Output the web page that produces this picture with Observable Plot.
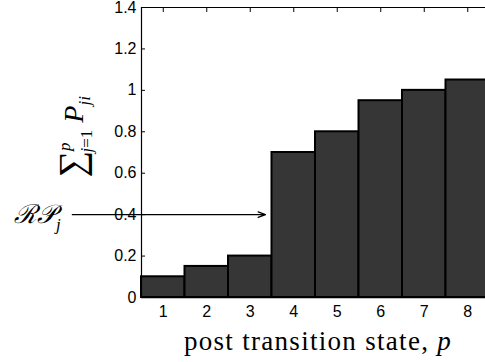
<!DOCTYPE html>
<html><head><meta charset="utf-8">
<script src="https://cdn.jsdelivr.net/npm/d3@7"></script>
<script src="https://cdn.jsdelivr.net/npm/@observablehq/plot@0.6"></script>
<style>html,body{margin:0;padding:0;overflow:hidden;background:#fff}</style>
</head><body><div id="chart"></div>
<script>
const states = [1, 2, 3, 4, 5, 6, 7, 8];
const cumulative = [0.10, 0.15, 0.20, 0.70, 0.80, 0.95, 1.00, 1.05];
const yTicks = [0, 0.2, 0.4, 0.6, 0.8, 1, 1.2, 1.4];
const xTitle = "post transition state, p";
const rpLabel = "ℛ𝒫";
const yTitle = "SUMLABEL";
const rpValue = 0.4;

const bars = states.map((s, i) => ({x1: s - 0.5, x2: s + 0.5, y: cumulative[i]}));
const serif = "'Liberation Serif', 'DejaVu Serif', serif";

const plot = Plot.plot({
  width: 500, height: 362,
  marginLeft: 141, marginRight: 11, marginTop: 7, marginBottom: 65,
  style: {fontFamily: "'Liberation Sans', Arial, sans-serif", fontSize: "16px", color: "#000", background: "#fff", overflow: "visible", maxWidth: "none"},
  x: {domain: [0.5, 8.5]},
  y: {domain: [0, 1.4]},
  marks: [
    Plot.rectY(bars, {x1: "x1", x2: "x2", y: "y", fill: "#363636", stroke: "#000", strokeWidth: 2}),
    Plot.ruleY([0], {stroke: "#000", strokeWidth: 1.5}),
    Plot.ruleY([1.4], {stroke: "#000", strokeWidth: 1}),
    Plot.ruleX([0.5], {stroke: "#000", strokeWidth: 1.2}),
    Plot.axisY({ticks: yTicks, tickSize: -4, tickPadding: 9, label: null, tickFormat: d => String(d)}),
    Plot.axisX({ticks: states, tickSize: 0, tickPadding: 8, label: null, tickFormat: d => String(d)}),
    Plot.axisX({anchor: "top", ticks: states, tickSize: -4, label: null, tickFormat: () => ""}),
    Plot.arrow([{x1: -1.09, x2: 3.35, y: rpValue}], {x1: "x1", x2: "x2", y1: "y", y2: "y", stroke: "#000", strokeWidth: 1.3, headLength: 9, headAngle: 40}),
    Plot.text([{x: -1.355, y: rpValue, t: rpLabel}], {x: "x", y: "y", text: "t", textAnchor: "end", fontSize: 26, fontFamily: serif}),
    Plot.text([{x: -1.03, y: 0.776, t: yTitle}], {x: "x", y: "y", text: "t", rotate: -90, fontSize: 27, fontFamily: serif}),
    Plot.text([{x: 4.557, y: -0.211, t: xTitle}], {x: "x", y: "y", text: "t", fontSize: 27, fontFamily: serif})
  ]
});
document.getElementById("chart").appendChild(plot);

const svg = d3.select(plot);
svg.selectAll('g[aria-label$="tick label"]').attr("font-size", 16).selectAll("text").style("font-size", "16px");

const texts = svg.selectAll("text");
const find = s => texts.filter(function() { return this.textContent === s; });

// math typesetting via tspans
const rp = find(rpLabel);
rp.text(null);
rp.append("tspan").text(rpLabel).attr("font-style", "italic");
rp.append("tspan").text("j").attr("font-style", "italic").attr("font-size", 17).attr("dy", 7);

const yl = find(yTitle);
yl.text(null);
yl.append("tspan").text("∑").attr("font-size", 37);
yl.append("tspan").text("p").attr("font-style", "italic").attr("font-size", 17).attr("dy", -14);
yl.append("tspan").text("j").attr("font-style", "italic").attr("font-size", 17).attr("dx", -10).attr("dy", 22);
yl.append("tspan").text("=1").attr("font-size", 17);
yl.append("tspan").text(" P").attr("font-style", "italic").attr("font-size", 28).attr("dy", -9);
yl.append("tspan").text("ji").attr("font-style", "italic").attr("font-size", 17).attr("dy", 7);

const xl = find(xTitle);
xl.style("letter-spacing", "1.3px");
xl.text(null);
xl.append("tspan").text(xTitle.slice(0, -1));
xl.append("tspan").text(xTitle.slice(-1)).attr("font-style", "italic");
</script></body></html>
